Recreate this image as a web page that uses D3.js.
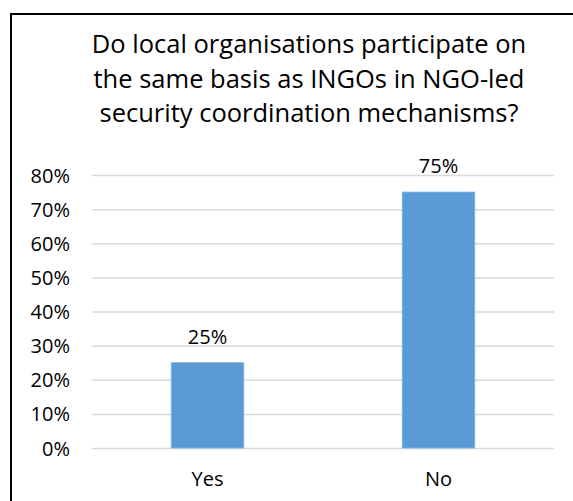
<!DOCTYPE html>
<html>
<head>
<meta charset="utf-8">
<script src="https://cdn.jsdelivr.net/npm/d3@7"></script>
<style>
  html, body { margin: 0; padding: 0; background: #fff; }
  svg { display: block; }
  text { font-family: "Open Sans", "Noto Sans", sans-serif; fill: #000; }
</style>
</head>
<body>
<svg id="chart" width="573" height="501"></svg>
<script>
// Survey answers and share of respondents
const categories = ["Yes", "No"];
const values = [0.25, 0.75];
const yTicks = [0, 0.1, 0.2, 0.3, 0.4, 0.5, 0.6, 0.7, 0.8];
const titleLines = [
  "Do local organisations participate on",
  "the same basis as INGOs in NGO-led",
  "security coordination mechanisms?"
];

const W = 573, H = 501;
const plot = { left: 92, right: 554, top: 175, bottom: 448 };

const svg = d3.select("#chart");

// Chart frame (continues past the right and bottom edges)
svg.append("rect")
  .attr("x", 11).attr("y", 14)
  .attr("width", 700).attr("height", 700)
  .attr("fill", "none")
  .attr("stroke", "#000")
  .attr("stroke-width", 2);

// Title
svg.append("g").selectAll("text")
  .data(titleLines)
  .join("text")
  .attr("x", 309)
  .attr("y", (d, i) => 53 + i * 34.5)
  .attr("text-anchor", "middle")
  .attr("font-size", 25.5)
  .text(d => d);

const x = d3.scaleBand()
  .domain(categories)
  .range([plot.left, plot.right])
  .paddingInner(0.686)
  .paddingOuter(0.343);

const y = d3.scaleLinear()
  .domain([0, 0.8])
  .range([plot.bottom, plot.top]);

// Gridlines + y tick labels
const yAxis = d3.axisLeft(y)
  .tickValues(yTicks)
  .tickFormat(d3.format(".0%"))
  .tickSize(-(plot.right - plot.left))
  .tickPadding(22);

const gy = svg.append("g")
  .attr("transform", `translate(${plot.left},0)`)
  .call(yAxis);
gy.select(".domain").remove();
gy.selectAll(".tick line")
  .attr("stroke", "#d9d9d9")
  .attr("stroke-width", 1.5);
gy.selectAll(".tick text")
  .attr("font-size", 20)
  .attr("font-family", "\"Open Sans\", sans-serif")
  .attr("fill", "#000")
  .attr("dy", "0.35em");

// Bars
svg.append("g").selectAll("rect")
  .data(categories)
  .join("rect")
  .attr("x", d => x(d))
  .attr("y", (d, i) => y(values[i]))
  .attr("width", x.bandwidth())
  .attr("height", (d, i) => y(0) - y(values[i]))
  .attr("fill", "#5b9bd5")
  .attr("stroke", "#7fb2e0")
  .attr("stroke-width", 0.8);

// Value labels
svg.append("g").selectAll("text")
  .data(categories)
  .join("text")
  .attr("x", d => x(d) + x.bandwidth() / 2)
  .attr("y", (d, i) => y(values[i]) - 19)
  .attr("text-anchor", "middle")
  .attr("font-size", 20)
  .text((d, i) => d3.format(".0%")(values[i]));

// Category axis labels
const xAxis = d3.axisBottom(x).tickSize(0).tickPadding(24);
const gx = svg.append("g")
  .attr("transform", `translate(0,${plot.bottom})`)
  .call(xAxis);
gx.select(".domain").remove();
gx.selectAll(".tick text")
  .attr("font-size", 20)
  .attr("font-family", "\"Open Sans\", sans-serif")
  .attr("fill", "#000");
</script>
</body>
</html>
